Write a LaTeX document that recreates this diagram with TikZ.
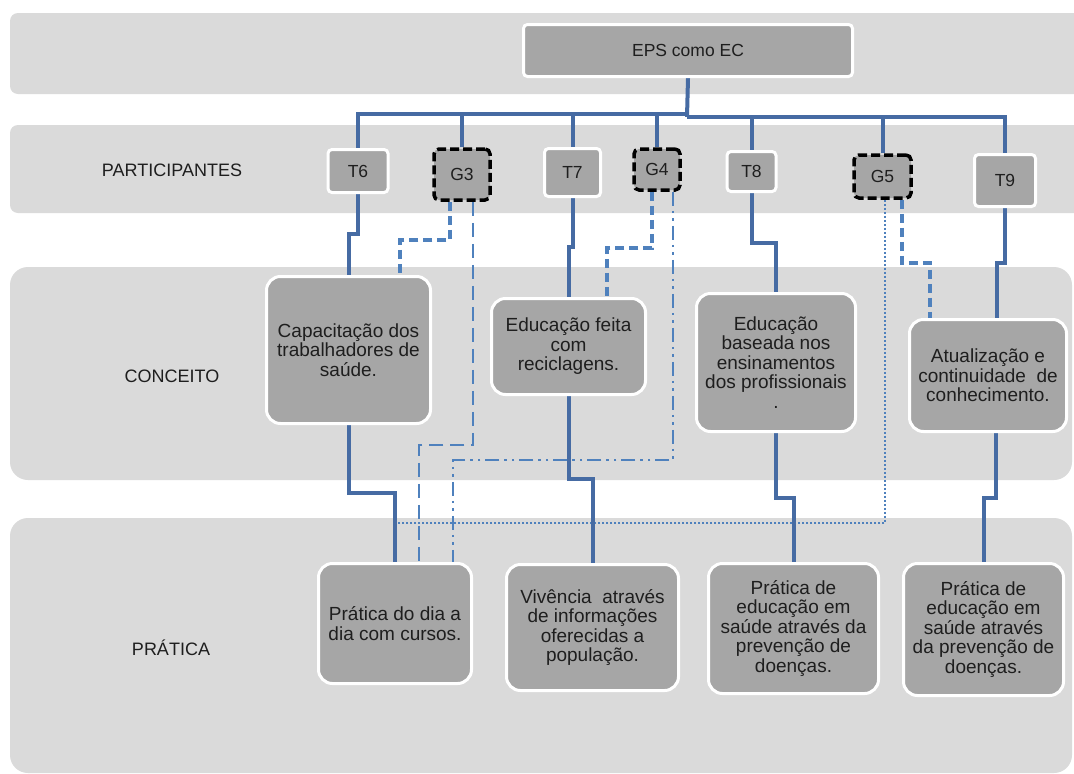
\documentclass[tikz,border=0pt]{standalone}
\usepackage{fontspec}
\setmainfont{Liberation Sans}
\usetikzlibrary{calc}
\definecolor{bandgray}{RGB}{218,218,218}
\definecolor{boxgray}{RGB}{166,166,166}
\definecolor{linec}{RGB}{70,107,163}
\definecolor{dashc}{RGB}{79,129,189}
\definecolor{txtc}{RGB}{30,30,30}
\pgfdeclarelayer{bands}
\pgfdeclarelayer{lines}
\pgfsetlayers{bands,lines,main}
\tikzset{
  band/.style={fill=bandgray, draw=none},
  tbox/.style={rectangle, rounded corners=4pt, fill=boxgray, draw=white, line width=3pt,
    inner sep=0pt, text=txtc, font=\fontsize{17.5}{19}\selectfont},
  gbox/.style={rectangle, rounded corners=5pt, fill=boxgray, draw=black, line width=3.5pt,
    dash pattern=on 9pt off 4pt, inner sep=0pt, text=txtc, font=\fontsize{17.5}{19}\selectfont},
  cbox/.style={rectangle, rounded corners=14pt, fill=boxgray, draw=white, line width=3pt,
    inner sep=0pt, align=center, text=txtc, font=\fontsize{19}{19.5}\selectfont},
  rowlabel/.style={text=txtc, font=\fontsize{18}{20}\selectfont},
  conn/.style={draw=linec, line width=4pt},
  dashA/.style={draw=dashc, line width=3.5pt, dash pattern=on 9pt off 5pt},
  dashB/.style={draw=dashc, line width=2.2pt, dash pattern=on 14pt off 7pt},
  dashdotdot/.style={draw=dashc, line width=2.5pt, dash pattern=on 14pt off 5pt on 2.5pt off 5pt on 2.5pt off 5pt},
  dotline/.style={draw=dashc, line width=2pt, dash pattern=on 2pt off 2pt},
}
\begin{document}
\begin{tikzpicture}[x=1pt,y=-1pt]
\useasboundingbox (0,0) rectangle (1074,774);
\begin{pgfonlayer}{bands}
\fill[white] (0,0) rectangle (1074,774);
\fill[band, rounded corners=8pt] (10,13) rectangle (1090,94);
\fill[band, rounded corners=8pt] (10,125) rectangle (1090,213);
\fill[band, rounded corners=18pt] (10,267) rectangle (1072,480);
\fill[band, rounded corners=18pt] (10,518) rectangle (1072,773);
\end{pgfonlayer}

% row labels
\node[rowlabel] (lpart) at (172,170) {PARTICIPANTES};
\node[rowlabel] (lconc) at (172,376) {CONCEITO};
\node[rowlabel] (lprat) at (171,648) {PRÁTICA};

% top
\node[tbox, minimum width=329pt, minimum height=52pt] (eps) at (688,50.5) {EPS como EC};

% participants
\node[tbox, minimum width=60pt, minimum height=43pt] (t6) at (358,171) {T6};
\node[gbox, minimum width=56pt, minimum height=51pt] (g3) at (462,174.5) {G3};
\node[tbox, minimum width=56pt, minimum height=48pt] (t7) at (572.5,172.5) {T7};
\node[gbox, minimum width=46pt, minimum height=41pt] (g4) at (657,169.5) {G4};
\node[tbox, minimum width=49pt, minimum height=40pt] (t8) at (751.5,171.5) {T8};
\node[gbox, minimum width=57pt, minimum height=43pt] (g5) at (882.5,176.5) {G5};
\node[tbox, minimum width=61pt, minimum height=52pt] (t9) at (1005,180.5) {T9};

% concepts
\node[cbox, minimum width=164pt, minimum height=147pt] (cap) at (348.5,350)
  {Capacitação dos\\trabalhadores de\\saúde.};
\node[cbox, minimum width=154pt, minimum height=96pt] (edf) at (568.5,346.5)
  {Educação feita\\com\\reciclagens.};
\node[cbox, minimum width=159pt, minimum height=138pt] (edb) at (776,362.5)
  {Educação\\baseada nos\\ensinamentos\\dos profissionais\\.};
\node[cbox, minimum width=157pt, minimum height=112pt] (atu) at (988,375.5)
  {Atualização e\\continuidade~ de\\conhecimento.};

% practice
\node[cbox, minimum width=153pt, minimum height=120pt] (p1) at (395,623.5)
  {Prática do dia a\\dia com cursos.};
\node[cbox, minimum width=172pt, minimum height=126pt] (p2) at (592.5,627.5)
  {Vivência~ através\\de informações\\oferecidas a\\população.};
\node[cbox, minimum width=170pt, minimum height=130pt] (p3) at (793.5,628.5)
  {Prática de\\educação em\\saúde através da\\prevenção de\\doenças.};
\node[cbox, minimum width=160pt, minimum height=132pt] (p4) at (983.5,629.5)
  {Prática de\\educação em\\saúde através\\da prevenção de\\doenças.};

\coordinate (hubL) at (687,114);
\coordinate (hubR) at (687,117);

\begin{pgfonlayer}{lines}
% dashed / dotted links (under solid ones)
\draw[dotline] (885,0 |- g5.south) -- (885,523) -| (p1.north);
\draw[dashA] (450,0 |- g3.south) -- (450,240) -| (400,0 |- cap.north);
\draw[dashB] (473,0 |- g3.south) -- (473,445) -| (419,0 |- p1.north);
\draw[dashA] (652,0 |- g4.south) -- (652,248) -| (607,0 |- edf.north);
\draw[dashdotdot] (673,0 |- g4.south) -- (673,460) -| (453,0 |- p1.north);
\draw[dashA] (902,0 |- g5.south) -- (902,263) -| (930,0 |- atu.north);

% tree
\draw[conn] (eps.south) -- (hubR);
\draw[conn] (hubL) -| (t6.north);
\draw[conn] (hubR) -| (t9.north);
\draw[conn] (g3.north) -- (g3.north |- hubL);
\draw[conn] (t7.north) -- (t7.north |- hubL);
\draw[conn] (g4.north) -- (g4.north |- hubL);
\draw[conn] (t8.north) -- (t8.north |- hubR);
\draw[conn] (g5.north) -- (g5.north |- hubR);

% participants -> concepts
\draw[conn] (t6.south) -- (t6.south |- 0,234) -| (cap.north);
\draw[conn] (t7.south) -- (t7.south |- 0,247) -| (edf.north);
\draw[conn] (t8.south) -- (t8.south |- 0,243) -| (edb.north);
\draw[conn] (t9.south) -- (t9.south |- 0,263) -| (997,0 |- atu.north);

% concepts -> practice
\draw[conn] (cap.south) -- (cap.south |- 0,493) -| (p1.north);
\draw[conn] (edf.south) -- (edf.south |- 0,479) -| (p2.north);
\draw[conn] (edb.south) -- (edb.south |- 0,498) -| (p3.north);
\draw[conn] (996,0 |- atu.south) -- (996,498) -| (p4.north);
\end{pgfonlayer}
\end{tikzpicture}
\end{document}
